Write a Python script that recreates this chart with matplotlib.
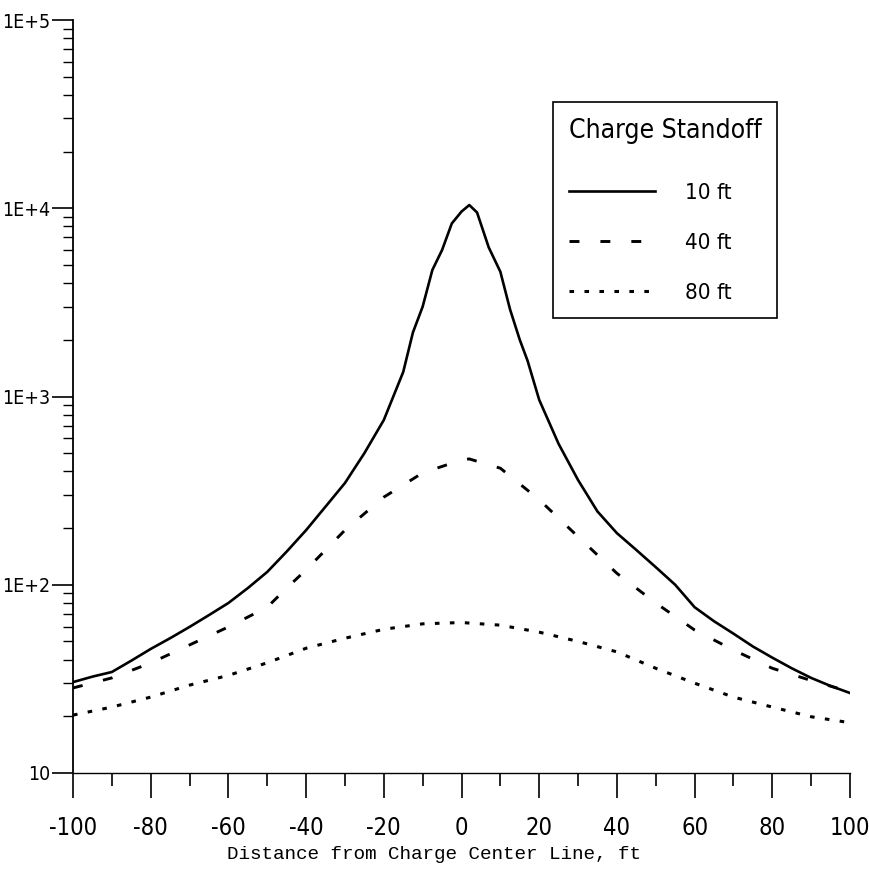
import matplotlib.pyplot as plt
from matplotlib import font_manager
from matplotlib.ticker import MultipleLocator, LogLocator, FuncFormatter, NullFormatter
import math

# Datos: distancia (ft) vs valor, para cada separacion de carga
x_10 = [-100, -95, -90, -85, -80, -75, -70, -65, -60, -55, -50, -45, -40, -35, -30,
        -25, -20, -15, -12.5, -10, -7.5, -5, -2.5, 0, 2, 4, 7, 10, 12.5, 15, 17,
        20, 25, 30, 35, 40, 45, 50, 55, 60, 65, 70, 75, 80, 85, 90, 95, 100]
y_10 = [30.4, 32.5, 34.4, 39.5, 45.6, 52, 59.7, 69, 80, 96, 117, 150, 195, 260, 347,
        500, 750, 1350, 2190, 3000, 4700, 6000, 8300, 9600, 10400, 9500, 6200, 4600,
        2900, 2000, 1550, 960, 560, 360, 245, 188, 153, 124, 100, 76, 64, 55, 47,
        41, 36, 32, 29, 26.6]

x_40 = [-100, -90, -80, -70, -60, -50, -45, -40, -30, -20, -10, 0, 2, 10, 20, 30,
        40, 50, 60, 70, 80, 90, 100]
y_40 = [28.3, 32, 38.4, 47.9, 59.7, 76, 96, 120, 195, 292, 393, 460, 466, 416, 283,
        180, 115, 80, 57.5, 45, 36, 31, 27]

x_80 = [-100, -90, -80, -70, -60, -50, -40, -30, -20, -10, 0, 10, 20, 30, 40, 50,
        60, 70, 80, 90, 100]
y_80 = [20.3, 22.4, 25.3, 29.3, 33, 38.5, 46, 52, 58, 62, 63, 61, 56, 50, 44, 36,
        30, 25.3, 22.4, 19.9, 18.5]

# fuente estrecha si hay alguna instalada
narrow = [f for f in font_manager.fontManager.ttflist
          if 'condensed' in str(f.stretch) or 'Narrow' in f.name or 'Condensed' in f.name]
if narrow:
    plt.rcParams['font.family'] = [narrow[0].name, 'Liberation Sans', 'DejaVu Sans']
    plt.rcParams['font.stretch'] = narrow[0].stretch
else:
    plt.rcParams['font.family'] = ['Liberation Sans', 'DejaVu Sans']
plt.rcParams['axes.unicode_minus'] = False

fig = plt.figure(figsize=(8.69, 8.82), dpi=100)
ax = fig.add_axes([73 / 869, 1 - 773 / 882, 777 / 869, 753 / 882])

ax.plot(x_10, y_10, color='black', lw=1.9, label='10 ft')
ax.plot(x_40, y_40, color='black', lw=2.1, dashes=(3.4, 7.2), label='40 ft')
ax.plot(x_80, y_80, color='black', lw=2.2, dashes=(1.5, 3.4), label='80 ft')

ax.set_yscale('log')
ax.set_xlim(-100, 100)
ax.set_ylim(10, 1e5)

ax.spines['top'].set_visible(False)
ax.spines['right'].set_visible(False)
ax.spines['left'].set_linewidth(1.3)
ax.spines['bottom'].set_linewidth(1.0)

ax.xaxis.set_major_locator(MultipleLocator(20))
ax.xaxis.set_minor_locator(MultipleLocator(10))
ax.yaxis.set_major_locator(LogLocator(base=10))
ax.yaxis.set_minor_locator(LogLocator(base=10, subs=range(2, 10)))
ax.yaxis.set_minor_formatter(NullFormatter())
ax.yaxis.set_major_formatter(FuncFormatter(
    lambda v, p: '10' if v == 10 else '1E+%d' % round(math.log10(v))))

ax.tick_params(axis='x', which='major', length=18, width=1.2, pad=13, labelsize=17)
ax.tick_params(axis='x', which='minor', length=9, width=1.2)
ax.tick_params(axis='y', which='major', length=15, width=1.2, pad=1.5, labelsize=14)
ax.tick_params(axis='y', which='minor', length=7, width=1.0)

ax.set_xlabel('Distance from Charge Center Line, ft',
              family=['Liberation Mono', 'DejaVu Sans Mono'], fontsize=13.9)
ax.xaxis.set_label_coords((434 - 73) / 777, (773 - 846) / 753)

leg = ax.legend(title='Charge Standoff', loc='upper left',
                bbox_to_anchor=((553 - 73) / 777, (773 - 102) / 753),
                frameon=True, fancybox=False, edgecolor='black', framealpha=1,
                fontsize=16, title_fontsize=19, handlelength=3.9,
                handletextpad=1.35, labelspacing=1.34, borderpad=0.7,
                borderaxespad=0, alignment='left')
leg.get_frame().set_linewidth(1.2)
# mas espacio entre el titulo y las entradas
leg._legend_box.sep = 1.34 * 16 + 7

plt.savefig('out.png', dpi=100)
